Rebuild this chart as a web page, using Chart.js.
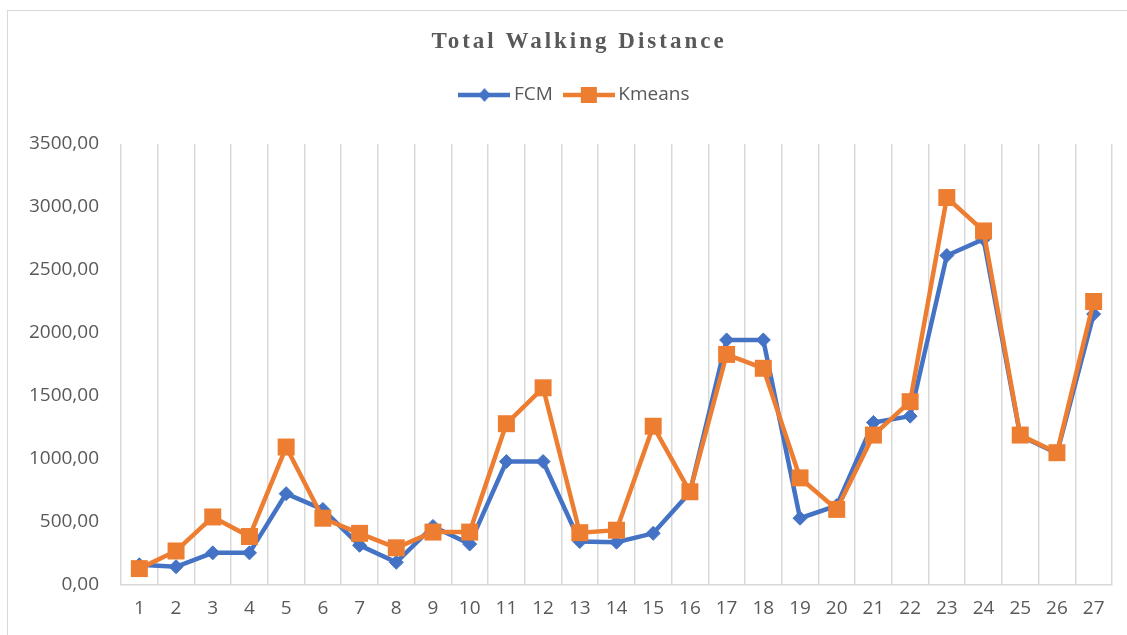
<!DOCTYPE html>
<html>
<head>
<meta charset="utf-8">
<script src="https://cdn.jsdelivr.net/npm/chart.js@4"></script>
<style>
  body { margin: 0; background: #fff; }
  #frame { position: absolute; left: 7px; top: 10px; width: 1140px; height: 640px; border: 1.5px solid #d9d9d9; }
  #wrap { position: absolute; left: 0; top: 0; width: 1127px; height: 635px; }
</style>
</head>
<body>
<div id="frame"></div>
<div id="wrap"><canvas id="myChart" width="1127" height="635"></canvas></div>
<script>
const categories = ['1','2','3','4','5','6','7','8','9','10','11','12','13','14','15','16','17','18','19','20','21','22','23','24','25','26','27'];
const fcmValues = [160,145,255,255,725,600,315,180,465,325,980,980,345,340,410,735,1945,1945,530,630,1290,1340,2615,2745,1185,1045,2150];
const kmeansValues = [130,270,540,385,1095,530,410,295,420,420,1280,1565,415,435,1260,740,1830,1720,850,600,1190,1455,3075,2810,1190,1050,2250];
const yTicks = [0,500,1000,1500,2000,2500,3000,3500];

const blue = '#4472C4';
const orange = '#ED7D31';
const grey = '#595959';

// legend icon: line with the marker in the middle
function legendIcon(color, marker)
{
  let c = document.createElement('canvas');
  c.width = 52; c.height = 20;
  let ctx = c.getContext('2d');
  ctx.strokeStyle = color;
  ctx.fillStyle = color;
  ctx.lineWidth = 4.5;
  ctx.beginPath();
  ctx.moveTo(0, 10); ctx.lineTo(52, 10);
  ctx.stroke();
  ctx.beginPath();
  if (marker == 'diamond') {
    ctx.moveTo(26, 3); ctx.lineTo(32, 10); ctx.lineTo(26, 17); ctx.lineTo(20, 10);
  } else {
    ctx.rect(18, 2, 16, 16);
  }
  ctx.fill();
  return c;
}

const titlePlugin = {
  id: 'spacedTitle',
  afterLayout(chart) {
    // legend sits a bit right of the canvas centre
    chart.legend.left += 21;
    chart.legend.right += 21;
  },
  afterDraw(chart) {
    const ctx = chart.ctx;
    ctx.save();
    ctx.font = 'bold 23px "Liberation Serif"';
    ctx.letterSpacing = '3px';
    ctx.fillStyle = grey;
    ctx.textAlign = 'center';
    ctx.textBaseline = 'middle';
    ctx.fillText('Total Walking Distance', 579, 42);
    ctx.restore();
  }
};

const fcmIcon = legendIcon(blue, 'diamond');
const kmIcon = legendIcon(orange, 'square');

const ctx = document.getElementById('myChart');

new Chart(ctx, {
  type: 'line',
  data: {
    labels: categories,
    datasets: [
      {
        label: 'FCM',
        data: fcmValues,
        borderColor: blue,
        backgroundColor: blue,
        borderWidth: 4.5,
        pointStyle: 'rectRot',
        pointRadius: 7,
        pointBorderWidth: 1,
        tension: 0,
        order: 2
      },
      {
        label: 'Kmeans',
        data: kmeansValues,
        borderColor: orange,
        backgroundColor: orange,
        borderWidth: 4.5,
        pointStyle: 'rect',
        pointRadius: 12,
        pointBorderWidth: 0,
        tension: 0,
        order: 1
      }
    ]
  },
  options: {
    responsive: false,
    animation: false,
    layout: { padding: { left: 0, right: 15, top: 69.5, bottom: 0 } },
    plugins: {
      legend: {
        position: 'top',
        labels: {
          usePointStyle: true,
          pointStyleWidth: 40,
          padding: 16,
          color: grey,
          font: { family: '"Open Sans"', size: 19 },
          generateLabels: (chart) => [
            { text: 'FCM', pointStyle: fcmIcon, fontColor: grey, datasetIndex: 0, lineWidth: 0, strokeStyle: 'transparent', fillStyle: blue },
            { text: 'Kmeans', pointStyle: kmIcon, fontColor: grey, datasetIndex: 1, lineWidth: 0, strokeStyle: 'transparent', fillStyle: orange }
          ]
        }
      },
      // empty spacer between legend and plot
      subtitle: {
        display: true,
        text: '',
        weight: 500,
        font: { size: 1, lineHeight: 1 },
        padding: { top: 0, bottom: 28.5 }
      },
      tooltip: { enabled: false }
    },
    scales: {
      x: {
        offset: true,
        grid: { display: true, offset: true, color: '#d9d9d9', lineWidth: 1.5, drawTicks: false },
        border: { display: true, color: '#d9d9d9', width: 1.5 },
        ticks: { color: grey, font: { family: '"Open Sans"', size: 19 }, padding: 12, maxRotation: 0, autoSkip: false },
        afterFit: (scale) => { scale.height = 50; }
      },
      y: {
        min: 0,
        max: 3500,
        grid: { display: false, drawTicks: false },
        border: { display: false },
        afterBuildTicks: (scale) => { scale.ticks = yTicks.map(v => ({ value: v })); },
        ticks: {
          color: grey,
          font: { family: '"Open Sans"', size: 19 },
          padding: 22,
          callback: (v) => v.toFixed(2).replace('.', ',')
        },
        afterFit: (scale) => { scale.width = 121; }
      }
    }
  },
  plugins: [titlePlugin]
});
</script>
</body>
</html>
